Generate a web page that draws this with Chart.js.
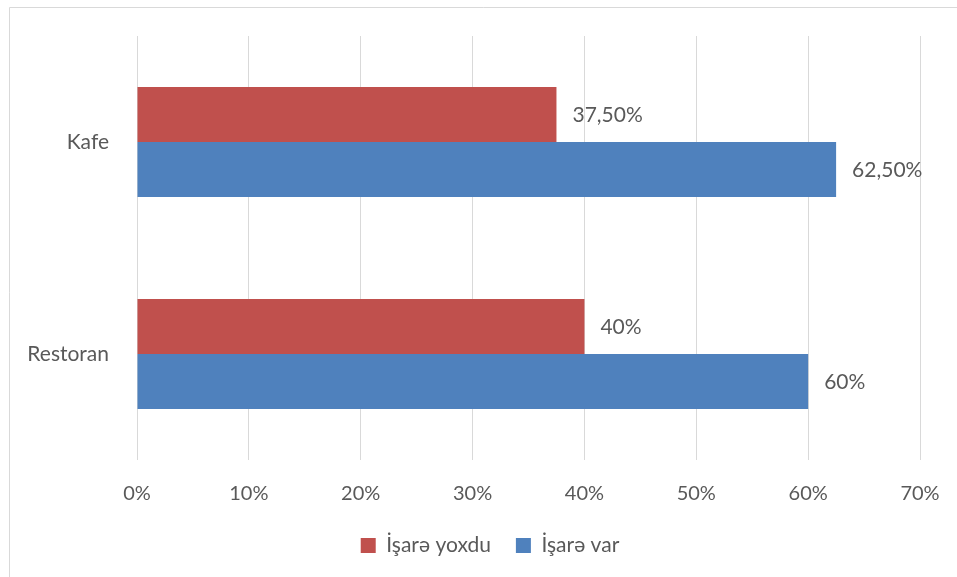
<!DOCTYPE html>
<html>
<head>
    <title>Kafe / Restoran</title>
    <script src="https://cdn.jsdelivr.net/npm/chart.js"></script>
    <style>
        body { margin: 0; background: #fff; }
        #wrap { width: 957px; height: 577px; }
    </style>
</head>
<body>
    <div id="wrap"><canvas id="bar-chart" width="957" height="577"></canvas></div>

    <script>
        // chart data
        var categories = ['Kafe', 'Restoran'];
        var seriesNames = ['İşarə yoxdu', 'İşarə var'];
        var noSign = [37.5, 40];
        var hasSign = [62.5, 60];
        var tickValues = [0, 10, 20, 30, 40, 50, 60, 70];

        var textColor = '#595959';
        var fontFamily = 'Lato, "Open Sans", sans-serif';

        function formatPct(v) {
            if (v % 1 !== 0) {
                return v.toFixed(2).replace('.', ',') + '%';
            }
            return v + '%';
        }

        // frame round the chart
        var framePlugin = {
            id: 'frame',
            beforeDraw: function (chart) {
                var ctx = chart.ctx;
                ctx.save();
                ctx.fillStyle = '#fff';
                ctx.fillRect(0, 0, chart.width, chart.height);
                ctx.strokeStyle = '#D9D9D9';
                ctx.lineWidth = 1;
                ctx.beginPath();
                ctx.moveTo(9.5, chart.height);
                ctx.lineTo(9.5, 7.5);
                ctx.lineTo(chart.width, 7.5);
                ctx.stroke();
                ctx.restore();
            },
            // legend sits a bit right of centre, like the original
            afterLayout: function (chart) {
                if (chart.legend) {
                    chart.legend.left += 30;
                    chart.legend.right += 30;
                }
            }
        };

        // value labels right of each bar
        var valueLabels = {
            id: 'valueLabels',
            afterDatasetsDraw: function (chart) {
                var ctx = chart.ctx;
                ctx.save();
                ctx.font = '21px ' + fontFamily;
                ctx.fillStyle = textColor;
                ctx.textAlign = 'left';
                ctx.textBaseline = 'middle';
                chart.data.datasets.forEach(function (ds, i) {
                    chart.getDatasetMeta(i).data.forEach(function (bar, j) {
                        ctx.fillText(formatPct(ds.data[j]), bar.x + 16, bar.y + 1);
                    });
                });
                ctx.restore();
            }
        };

        var ctx = document.getElementById('bar-chart').getContext('2d');
        var myChart = new Chart(ctx, {
            type: 'bar',
            data: {
                labels: categories,
                datasets: [{
                    label: seriesNames[0],
                    data: noSign,
                    backgroundColor: '#C0504D',
                    borderWidth: 0
                }, {
                    label: seriesNames[1],
                    data: hasSign,
                    backgroundColor: '#4F81BD',
                    borderWidth: 0
                }]
            },
            options: {
                indexAxis: 'y',
                responsive: false,
                animation: false,
                datasets: {
                    bar: { categoryPercentage: 0.52, barPercentage: 1 }
                },
                layout: {
                    padding: { left: 0, top: 36, right: 37, bottom: 11 }
                },
                scales: {
                    x: {
                        min: 0,
                        max: 70,
                        afterBuildTicks: function (scale) {
                            scale.ticks = tickValues.map(function (v) { return { value: v }; });
                        },
                        afterFit: function (scale) {
                            scale.height = 50;
                            scale.paddingLeft = 0;
                            scale.paddingRight = 0;
                        },
                        grid: { color: '#D9D9D9', drawTicks: false },
                        border: { display: false },
                        ticks: {
                            padding: 22,
                            color: textColor,
                            font: { size: 20, family: fontFamily },
                            callback: function (v) { return v + '%'; }
                        }
                    },
                    y: {
                        afterFit: function (scale) { scale.width = 137; },
                        grid: { display: false },
                        border: { display: false },
                        ticks: {
                            padding: 20,
                            color: textColor,
                            font: { size: 21, family: fontFamily }
                        }
                    }
                },
                plugins: {
                    tooltip: { enabled: false },
                    legend: {
                        position: 'bottom',
                        labels: {
                            boxWidth: 15,
                            boxHeight: 15,
                            padding: 25,
                            color: textColor,
                            font: { size: 21, family: fontFamily }
                        }
                    }
                }
            },
            plugins: [framePlugin, valueLabels]
        });
    </script>
</body>
</html>
